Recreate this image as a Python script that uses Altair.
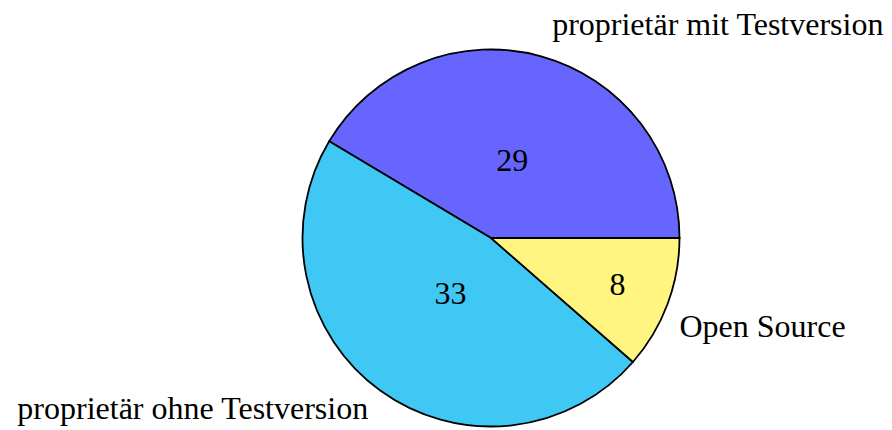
import math

import altair as alt
import pandas as pd

# Slices in drawing order (counter-clockwise from 3 o'clock)
categories = ["proprietär mit Testversion", "proprietär ohne Testversion", "Open Source"]
counts = [29, 33, 8]
colors = ["#6666FF", "#40C8F4", "#FFF580"]

df = pd.DataFrame({"kategorie": categories, "anzahl": counts, "idx": list(range(len(categories)))})
total = sum(counts)

CX, CY, R = 491, 238, 188.5
FONT = "Liberation Serif"
FS = 32

# counter-clockwise sweep starting at the east direction
theta_scale = alt.Scale(domain=[0, total], range=[math.pi / 2, math.pi / 2 - 2 * math.pi])

base = (
    alt.Chart(df)
    .transform_window(cum="sum(anzahl)", sort=[alt.SortField("idx")], frame=[None, 0])
    .transform_calculate(start="datum.cum - datum.anzahl", mid="datum.cum - datum.anzahl / 2")
)

pie = base.mark_arc(stroke="black", strokeWidth=1.8, radius=R).encode(
    x=alt.value(CX),
    y=alt.value(CY),
    theta=alt.Theta("start:Q", stack=None, scale=theta_scale),
    theta2="cum:Q",
    color=alt.Color("kategorie:N", scale=alt.Scale(domain=categories, range=colors), legend=None),
)


def value_label(i, r):
    return (
        base.transform_filter(alt.datum.idx == i)
        .mark_text(radius=r, font=FONT, fontSize=FS, align="center", baseline="middle", color="black")
        .encode(
            x=alt.value(CX),
            y=alt.value(CY),
            theta=alt.Theta("mid:Q", scale=theta_scale),
            text="anzahl:Q",
        )
    )


def name_label(i, align, dx, dy):
    return (
        base.transform_filter(alt.datum.idx == i)
        .mark_text(radius=R, font=FONT, fontSize=FS, align=align, baseline="alphabetic",
                   dx=dx, dy=dy, color="black")
        .encode(
            x=alt.value(CX),
            y=alt.value(CY),
            theta=alt.Theta("mid:Q", scale=theta_scale),
            text="kategorie:N",
        )
    )


chart = (
    alt.layer(
        pie,
        value_label(0, 80),
        value_label(1, 69),
        value_label(2, 135),
        name_label(0, "left", 11, -21),
        name_label(1, "right", -12, 29),
        name_label(2, "left", 12, 33),
    )
    .properties(width=892, height=430, padding=0, autosize="none", background="white")
    .configure_view(stroke=None)
)

chart.save("out.html", embed_options={"renderer": "svg", "actions": False})
